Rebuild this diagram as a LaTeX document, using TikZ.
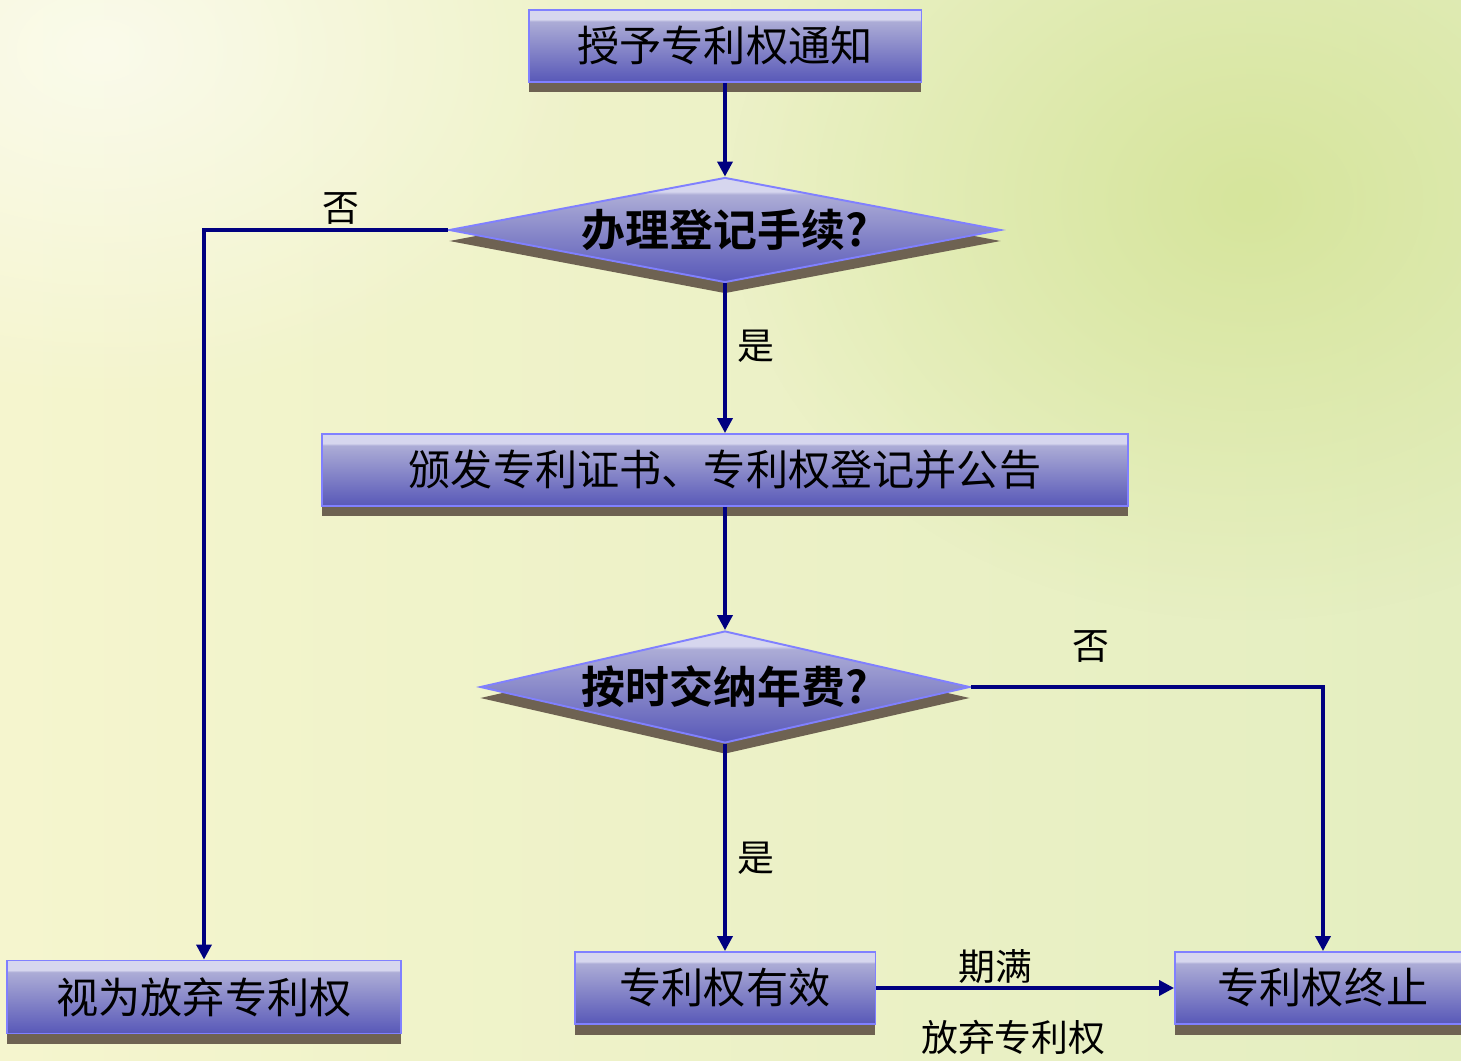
\documentclass[tikz,border=0pt]{standalone}
\usepackage{fontspec}
\setmainfont{Noto Sans CJK SC}
\newfontfamily\heavyfont{Noto Sans CJK SC Bold}
\usetikzlibrary{shapes.geometric,arrows.meta,shadows,fadings}

\definecolor{boxtop}{RGB}{214,214,238}
\definecolor{boxmid}{RGB}{172,172,214}
\definecolor{boxbot}{RGB}{88,88,184}
\definecolor{boxline}{RGB}{128,128,255}
\definecolor{shadowbrown}{RGB}{110,98,82}
\definecolor{arrowblue}{RGB}{0,0,128}
\definecolor{bgleft}{RGB}{245,245,206}
\definecolor{bgright}{RGB}{228,238,192}
\definecolor{bggreen}{RGB}{214,229,156}

\pgfdeclareverticalshading{boxshade}{100bp}{color(0bp)=(boxbot); color(25bp)=(boxbot); color(67bp)=(boxmid); color(68.5bp)=(boxtop); color(75bp)=(boxtop); color(100bp)=(boxtop)}
\tikzfading[name=softglow, inner color=transparent!0, outer color=transparent!100]

\tikzset{
  flowbox/.style={rectangle, draw=boxline, line width=1.1pt, shade, shading=boxshade,
    drop shadow={shadow xshift=0pt, shadow yshift=-0.21cm, opacity=1, fill=shadowbrown},
    inner sep=0pt, font=\fontsize{24}{28}\selectfont},
  decision/.style={diamond, draw=boxline, line width=1.1pt, shade, shading=boxshade,
    drop shadow={shadow xshift=0pt, shadow yshift=-0.22cm, opacity=1, fill=shadowbrown},
    inner sep=0pt, font=\heavyfont\fontsize{25}{28}\selectfont},
  flowarrow/.style={arrowblue, line width=2pt, -{Triangle[length=0.3cm,width=0.3cm]}},
  flowlabel/.style={inner sep=0pt, text=black, font=\fontsize{21}{24}\selectfont}
}

\begin{document}
\begin{tikzpicture}[x=0.02cm, y=-0.02cm]
    \useasboundingbox (0,0) rectangle (1461,1061);
    % background
    \shade[left color=bgleft, right color=bgright] (0,0) rectangle (1461,1061);
    \fill[bggreen, path fading=softglow] (1250,200) ellipse (520 and 420);
    \fill[white, opacity=0.6, path fading=softglow] (100,50) ellipse (500 and 350);

    \node[flowbox, minimum width=7.86cm, minimum height=1.44cm] (notice) at (725,46) {授予专利权通知};
    \node[decision, aspect=5.26, minimum width=11.04cm, minimum height=2.1cm] (register) at (725,230) {办理登记手续?};
    \node[flowbox, minimum width=16.12cm, minimum height=1.44cm] (issue) at (725,470) {颁发专利证书、专利权登记并公告};
    \node[decision, aspect=4.38, minimum width=9.8cm, minimum height=2.24cm] (fee) at (725,687) {按时交纳年费?};
    \node[flowbox, minimum width=7.88cm, minimum height=1.46cm] (abandon) at (204,997) {视为放弃专利权};
    \node[flowbox, minimum width=6.02cm, minimum height=1.44cm] (valid) at (725,988) {专利权有效};
    \node[flowbox, minimum width=5.92cm, minimum height=1.44cm] (ended) at (1323,988) {专利权终止};

    \draw[flowarrow] (notice) -- (register);
    \draw[flowarrow] (register.west) -| node[flowlabel, pos=0.22, above=0.08cm] {否} (abandon);
    \draw[flowarrow] (register) -- node[flowlabel, pos=0.42, right=0.22cm] {是} (issue);
    \draw[flowarrow] (issue) -- (fee);
    \draw[flowarrow] (fee.east) -| node[flowlabel, pos=0.17, above=0.46cm] {否} (ended);
    \draw[flowarrow] (fee) -- node[flowlabel, pos=0.55, right=0.22cm] {是} (valid);
    \draw[flowarrow] (valid) -- node[flowlabel, pos=0.4, above=0.05cm] {期满}
        node[flowlabel, pos=0.46, below=0.6cm] {放弃专利权} (ended);
\end{tikzpicture}
\end{document}
